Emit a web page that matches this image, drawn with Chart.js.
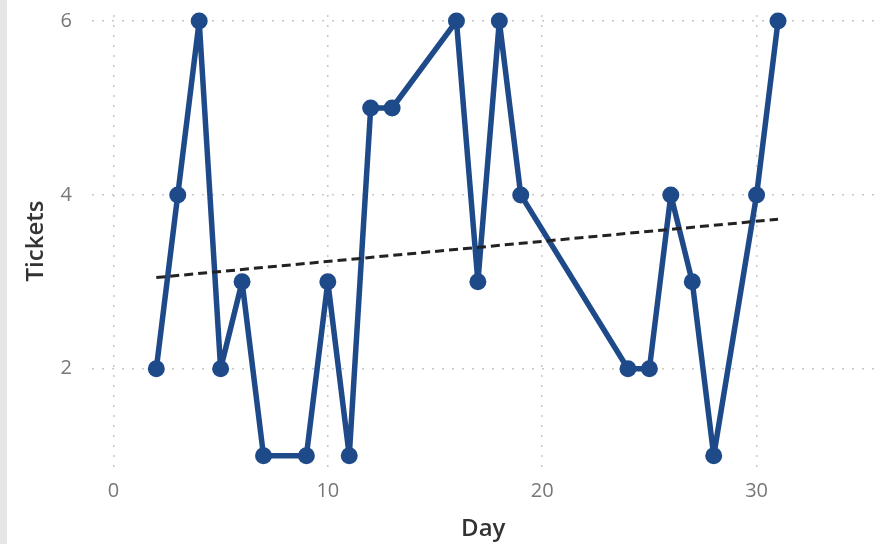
<!DOCTYPE html>
<html>
<head>
<meta charset="utf-8">
<script src="https://cdn.jsdelivr.net/npm/chart.js@4.4.1/dist/chart.umd.min.js"></script>
<style>
  html, body { margin: 0; padding: 0; background: #fff; }
  #wrap { position: relative; width: 883px; height: 544px; }
  #band { position: absolute; left: 0; top: 0; width: 7px; height: 544px; background: #e6e6e6; }
</style>
</head>
<body>
<div id="wrap">
  <canvas id="chart" width="883" height="544"></canvas>
  <div id="band"></div>
</div>
<script>
// ── Dados ────────────────────────────────────────────────
const days    = [2, 3, 4, 5, 6, 7, 9, 10, 11, 12, 13, 16, 17, 18, 19, 24, 25, 26, 27, 28, 30, 31];
const tickets = [2, 4, 6, 2, 3, 1, 1, 3, 1, 5, 5, 6, 3, 6, 4, 2, 2, 4, 3, 1, 4, 6];

const trendDays  = [2, 31];
const trendVals  = [3.05, 3.72];

const xTicks = [0, 10, 20, 30];
const yTicks = [2, 4, 6];

const blue = '#1f4a8a';
const font = '"Open Sans", "Noto Sans", sans-serif';

const toPoints = (xs, ys) => xs.map((x, i) => ({ x, y: ys[i] }));

new Chart(document.getElementById('chart'), {
    type: 'scatter',
    data: {
        datasets: [
            {
                label: 'Tickets',
                data: toPoints(days, tickets),
                showLine: true,
                borderColor: blue,
                backgroundColor: blue,
                borderWidth: 5.5,
                borderJoinStyle: 'round',
                borderCapStyle: 'round',
                pointRadius: 8.5,
                pointHoverRadius: 8.5,
                pointBorderWidth: 0,
                clip: false,
                order: 1,
            },
            {
                label: 'Tendência',
                data: toPoints(trendDays, trendVals),
                showLine: true,
                borderColor: '#222',
                borderWidth: 3,
                borderDash: [9, 5],
                pointRadius: 0,
                clip: false,
                order: 0,
            },
        ],
    },
    options: {
        responsive: false,
        animation: false,
        layout: { padding: { top: 15, right: 7, left: 0, bottom: 0 } },
        plugins: { legend: { display: false }, tooltip: { enabled: false } },
        scales: {
            x: {
                type: 'linear', min: -1, max: 35.5,
                afterBuildTicks: s => { s.ticks = xTicks.map(v => ({ value: v })); },
                afterFit: s => { s.height = 77; s.paddingLeft = 0; s.paddingRight = 0; },
                grid: { color: '#c8c8c8', drawTicks: false, lineWidth: 1.5 },
                border: { display: false, dash: [2, 8] },
                ticks: { color: '#777', font: { family: font, size: 20 }, padding: 12 },
                title: { display: true, text: 'Day', color: '#333', font: { family: font, size: 24, weight: '600' }, padding: { top: 4, bottom: 0 } },
            },
            y: {
                type: 'linear', min: 0.87, max: 6.07,
                afterBuildTicks: s => { s.ticks = yTicks.map(v => ({ value: v })); },
                afterFit: s => { s.width = 92; s.paddingTop = 0; s.paddingBottom = 0; },
                grid: { color: '#c8c8c8', drawTicks: false, lineWidth: 1.5 },
                border: { display: false, dash: [2, 8] },
                ticks: { color: '#777', font: { family: font, size: 20 }, padding: 20 },
                title: { display: true, text: 'Tickets', color: '#333', font: { family: font, size: 24, weight: '600' }, padding: { top: 22, bottom: 0 } },
            },
        },
    },
});
</script>
</body>
</html>
